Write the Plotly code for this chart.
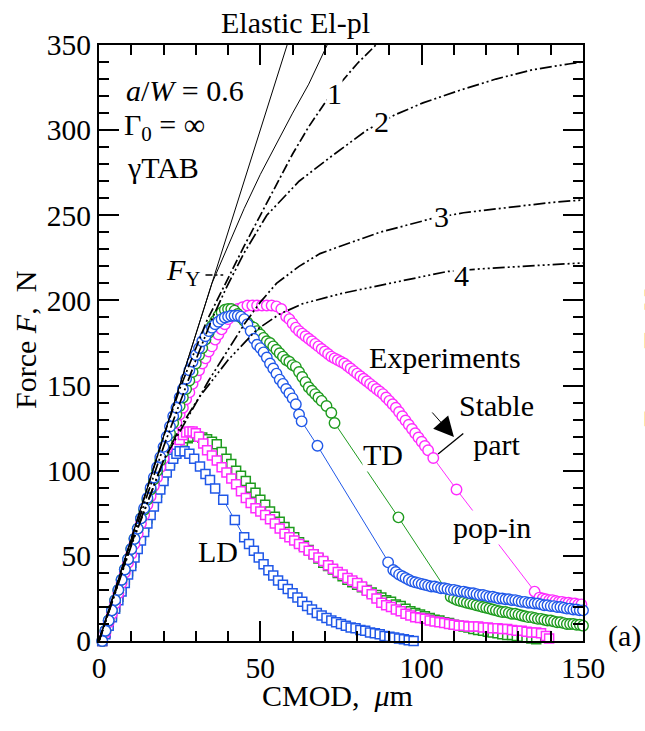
import plotly.graph_objects as go

# ---------------- data ----------------
# Model curves
elastic_cm = [0, 58.3]
elastic_F = [0, 350]
elpl_cm = [0, 30, 35, 40, 45, 50, 55, 60, 65, 70.7]
elpl_F = [0, 181, 210, 232, 254, 274, 292, 310, 327, 350]
c1_cm = [0, 10, 20, 25, 30, 33.4, 40, 45, 50, 55, 60, 65, 70, 75, 80, 85.8]
c1_F = [0, 60, 120, 148, 172, 188, 213, 232, 250, 268, 286, 302, 316, 328, 339, 350]
c2_cm = [0, 10, 20, 25, 30, 35, 39.6, 45, 52, 62, 71.6, 83, 91.7, 100.4, 112, 123, 134.5, 146, 150]
c2_F = [0, 58, 114, 140, 165, 189, 208, 228, 250, 270, 284, 300, 309, 316, 323.5, 330, 335.5, 339, 340]
c3_cm = [0, 10, 20, 24.8, 30, 34, 40, 45, 50, 55, 62, 68.5, 75, 81, 87, 93, 103, 113, 128, 140, 150]
c3_F = [0, 57, 106, 122, 139, 153, 171, 186, 199, 210, 220, 227.5, 232, 236, 240, 243, 248, 251.5, 255, 257.5, 259]
c4_cm = [0, 10, 20, 25, 31, 40, 49, 56, 63, 75, 90, 100, 108, 118, 130, 140, 150]
c4_F = [0, 56, 106, 125, 143, 165, 183, 192, 198, 204, 210, 214, 217, 218.5, 220, 221, 222]

# TD experiments (circles)
td_pink_cm = [1, 2, 3, 4, 5, 6, 7, 8, 9, 10, 11, 12, 13, 14, 15, 16, 17, 18, 19, 20, 21, 22, 23, 24, 25,
              26, 27, 28, 29, 30, 31, 32, 33, 34, 35, 36, 37, 38, 39, 40, 41, 42, 43,
              44.5, 46, 47.5, 49, 50.5, 52, 53.5, 55, 56.5,
              58, 59, 60, 61, 62, 63, 64, 65, 66, 67, 68, 69, 70, 71, 72, 73, 74, 75, 76, 77, 78, 79, 80,
              81, 82, 83, 84, 85, 86, 87, 88, 89, 90, 91, 92, 93, 94, 95, 96, 97, 98, 99, 100, 101, 102, 103.6,
              110.8, 135,
              136.5, 137.5, 138.5, 139.5, 140.5, 141.5, 142.5, 143.5, 144.5, 145.5, 146.5, 147.5, 148.5, 149.5]
td_pink_F = [0, 5, 11, 16, 22, 28, 34, 40, 46, 51, 57, 63, 69, 74, 80, 85, 91, 96, 102, 107, 113, 118, 123, 128, 133,
             137, 142, 146, 151, 155, 159, 163, 166, 170, 173, 177, 180, 183, 186, 189, 191, 193, 195,
             196, 197, 197, 197, 197, 197, 197, 196.5, 195,
             190.5, 189, 186.5, 184, 182, 180.5, 179, 177.5, 176, 174.5, 173, 171.5, 170, 168.5, 167, 166, 165, 164, 163, 161.5, 160, 158.5, 157,
             155.5, 154, 152.5, 151, 149.5, 148, 146.5, 145, 143, 141, 139, 137, 134.5, 132, 129.5, 127, 124.5, 122, 119.5, 117, 114.5, 112, 107.5,
             89, 29,
             25.5, 25, 24.5, 24, 24, 23.5, 23, 23, 22.5, 22.5, 22, 22, 21.5, 21.5]

td_green_cm = [1, 2, 3, 4, 5, 6, 7, 8, 9, 10, 11, 12, 13, 14, 15, 16, 17, 18, 19, 20, 21, 22, 23, 24, 25,
               26, 27, 28, 29, 30, 31, 32, 33, 34, 35, 36, 37, 38, 39, 40, 41,
               42, 43, 44, 45, 46, 47, 48, 49, 50, 51, 52, 53, 54, 55, 56, 57, 58, 59, 60, 61, 62, 63, 64, 65,
               66, 67, 68, 69, 70.5, 72, 73, 92.8,
               109, 110, 111, 112, 113, 114, 115, 116, 117, 118, 119, 120, 121, 122, 123, 124, 125, 126, 127, 128,
               129, 130, 131, 132, 133, 134, 135, 136, 137, 138, 139, 140, 141, 142, 143, 144, 145, 146, 147, 148, 149, 150]
td_green_F = [0, 6, 12, 18, 24, 30, 36, 42, 48, 54, 60, 66, 72, 77, 83, 89, 95, 100, 106, 111, 117, 122, 128, 133, 138,
              143, 148, 153, 158, 163, 168, 172, 177, 181, 185, 188, 191, 193, 194.5, 195, 195,
              194, 192, 190, 188, 187, 185, 184, 182, 180, 178, 176, 175, 173, 171, 169, 167, 165, 164, 162, 161, 158, 155, 152, 149,
              147, 145, 143, 141, 138, 134, 128, 72.6,
              26, 25, 24, 23.5, 23, 22.5, 22, 21.5, 21, 20.5, 20, 19.5, 19, 18.5, 18, 17.5, 17, 17, 16.5, 16,
              16, 15.5, 15, 14.5, 14, 14, 13.5, 13, 13, 12.5, 12, 12, 11.5, 11, 11, 10.5, 10, 10, 10, 9.5, 9.5, 9]

td_blue_cm = [1, 2, 3, 4, 5, 6, 7, 8, 9, 10, 11, 12, 13, 14, 15, 16, 17, 18, 19, 20, 21, 22, 23, 24, 25,
              26, 27, 28, 29, 30, 31, 32, 33, 34, 35, 36, 37, 38, 39, 40, 41, 42, 43, 44,
              45, 46, 47, 48, 49, 50, 51, 52, 53, 54, 55, 56, 57, 58, 59, 60, 61, 62, 62.8, 67.7, 89.6,
              91.2, 92, 93, 94, 95, 96, 97, 98, 99, 100, 101, 102, 103, 104, 105, 106, 107, 108, 109, 110,
              111, 112, 113, 114, 115, 116, 117, 118, 119, 120, 121, 122, 123, 124, 125, 126, 127, 128, 129, 130,
              131, 132, 133, 134, 135, 136, 137, 138, 139, 140, 141, 142, 143, 144, 145, 146, 147, 148, 149, 150]
td_blue_F = [0, 6, 12, 18, 24, 30, 36, 42, 48, 54, 60, 66, 72, 78, 84, 90, 96, 102, 108, 114, 120, 126, 132, 137, 143,
             148, 154, 159, 164, 168, 172, 176, 179, 182, 184, 186, 187.5, 189, 190, 190.5, 191, 191, 191, 190.5,
             189, 186, 182, 177.5, 174, 172, 169.5, 166.5, 163, 160, 157, 153.5, 151, 148, 145.5, 142.5, 139, 133, 129, 114.7, 46.2,
             41.7, 40.5, 39, 38, 37, 36, 35, 34.5, 34, 33.5, 33, 32.5, 32, 32, 31.5, 31, 31, 30.5, 30, 30,
             29.5, 29, 29, 28.5, 28, 28, 27.5, 27, 27, 26.5, 26, 26, 25.5, 25, 25, 24.5, 24.5, 24, 24, 23.5,
             23, 23, 22.5, 22.5, 22, 22, 21.5, 21, 21, 20.5, 20.5, 20, 20, 19.5, 19, 19, 18.5, 18.5, 18, 18]

# LD experiments (squares)
ld_blue_cm = [1, 2, 3, 4, 5, 6, 7, 8, 9, 10, 11, 12, 13, 14, 15, 16, 17, 18, 19, 20, 21, 22, 23, 24, 25,
              26.5, 28, 29.5, 31.3, 33, 34.4, 36, 38.5, 42.1, 45, 46.5, 48, 49.5, 51, 52.5, 54, 55.5, 57, 58.5,
              60, 61.5, 63, 64.5, 66, 67.5, 69, 70.5, 72, 73.5, 75, 76.5, 78, 79.5, 81, 82.5, 84, 85.5, 87,
              88.5, 90, 91.5, 93, 94.5, 96, 97.5]
ld_blue_F = [0, 4, 9, 14, 19, 24, 29, 34, 39, 44, 49, 54, 59, 64, 69, 74, 79, 84, 89, 94, 99, 103, 107, 110, 111.5,
             111.5, 110, 107, 102.5, 98, 94.5, 89.5, 83, 71, 61, 57, 53, 49, 45, 41.5, 38.5, 35.5, 33, 30.5,
             28, 25.5, 23, 20.5, 18.5, 16.5, 15, 13.5, 12, 11, 10, 9, 8, 7.5, 6.5, 6, 5, 4.5, 4,
             3, 2.5, 2, 1.5, 1, 0.5, 0]

ld_green_cm = [1, 2, 3, 4, 5, 6, 7, 8, 9, 10, 11, 12, 13, 14, 15, 16, 17, 18, 19, 20, 21, 22, 23, 24, 25, 26,
               27.5, 29, 30.5, 32, 33.5, 35, 36.5, 38, 39.5, 41, 42.5, 44, 45.5, 47, 48.5, 50, 51.5, 53, 54.5,
               56, 57.5, 59, 60.5, 62, 63.5, 65, 66.5, 68, 69.5, 71, 72.5, 74, 75.5, 77, 78.5, 80, 81.5, 83,
               84.5, 86, 87.5, 89, 90.5, 92, 93.5, 95, 96.5, 98, 99.5, 101, 102.5, 104, 105.5, 107, 108.5, 110,
               111.5, 113, 114.5, 116, 117.5, 119, 120.5, 122, 123.5, 125, 126.5, 128, 129.5, 131, 132.5, 134, 135.5]
ld_green_F = [0, 5, 10, 15, 20, 26, 31, 36, 41, 46, 52, 57, 62, 67, 72, 77, 82, 87, 92, 97, 101, 105, 109, 112, 115, 117,
              119, 120, 120, 119.5, 118.5, 117, 115.5, 111, 107, 104, 100, 97, 94, 90, 87, 83, 80, 76, 73,
              70, 67, 64, 61, 58, 56, 53.5, 51, 48.5, 46, 44, 42, 40, 38, 36, 34.5, 33, 31.5, 30,
              28.5, 27, 25.5, 24, 23, 21.5, 20.5, 19, 17.5, 16.5, 15.5, 14.5, 13.5, 12.5, 12, 11, 10.5, 9.5,
              9, 8.5, 8, 7, 6.5, 6, 5.5, 5, 4.5, 4, 3.5, 3.5, 3, 2.5, 2, 1.5, 1]

ld_pink_cm = [1, 2, 3, 4, 5, 6, 7, 8, 9, 10, 11, 12, 13, 14, 15, 16, 17, 18, 19, 20, 21, 22, 23, 24, 25,
              26, 27, 28, 29, 30, 31, 32.3, 33.5, 35, 36.5, 38, 39.5, 41, 42.5, 44, 45.5, 47, 48.5, 50, 51.5,
              53, 54.5, 56, 57.5, 59, 60.5, 62, 63.5, 65, 66.5, 68, 69.5, 71, 72.5, 74, 75.5, 77, 78.5, 80,
              81.5, 83, 84.5, 86, 87.5, 89, 90.5, 92, 93.5, 95, 96.5, 98, 99.5, 101, 102.5, 104, 105.5, 107,
              108.5, 110, 111.5, 113, 114.5, 116, 117.5, 119, 120.5, 122, 123.5, 125, 126.5, 128, 129.5, 131,
              132.5, 134, 135.5, 137, 138.5, 139.5]
ld_pink_F = [0, 5, 10, 16, 21, 27, 32, 37, 43, 48, 53, 59, 64, 69, 74, 79, 84, 89, 94, 99, 104, 108, 112, 115, 118,
             121, 122.5, 123, 123, 122, 120, 116, 112, 109, 106, 102, 99, 95.5, 92, 88, 84, 81, 78, 76, 74,
             71.5, 69, 66, 63, 61, 59, 57, 55, 53, 51, 49, 47, 44.5, 42.5, 40.5, 39, 37, 35.5, 34,
             32, 29.5, 27.5, 25, 22.5, 21, 20, 18.5, 17.5, 16, 15, 14, 13.5, 13, 12, 11.5, 11, 10.5,
             10, 9.5, 9, 9, 8.5, 8.5, 8.5, 8, 8, 7.5, 7.5, 7, 7, 6.5, 6, 6,
             5.5, 5, 5, 4.5, 3, 1.5]

# F_Y leader and stable-part marker
fy_cm = [33, 38.5]
fy_F = [215, 215]
stable_cm = [105.1, 112.9]
stable_F = [109.8, 121.9]

# ---------------- colours / styles ----------------
PINK = "#ff2bff"
GREEN = "#1e9b1e"
BLUE = "#2058e8"
FONT = "Liberation Serif, Times New Roman, DejaVu Serif, serif"

fig = go.Figure()


def exp_trace(x, y, color, symbol, size, lw):
    fig.add_trace(go.Scatter(
        x=x, y=y, mode="lines+markers",
        line=dict(color=color, width=1),
        marker=dict(symbol=symbol, size=size, color="white",
                    line=dict(color=color, width=lw)),
        cliponaxis=False, showlegend=False, hoverinfo="skip"))


exp_trace(ld_green_cm, ld_green_F, GREEN, "square", 9, 1.5)
exp_trace(ld_pink_cm, ld_pink_F, PINK, "square", 9, 1.5)
exp_trace(ld_blue_cm, ld_blue_F, BLUE, "square", 9, 1.5)
exp_trace(td_pink_cm, td_pink_F, PINK, "circle", 10.5, 1.4)
exp_trace(td_green_cm, td_green_F, GREEN, "circle", 10.5, 1.4)
exp_trace(td_blue_cm, td_blue_F, BLUE, "circle", 10.5, 1.4)


def curve(x, y, dash, width):
    fig.add_trace(go.Scatter(
        x=x, y=y, mode="lines", line=dict(color="black", width=width, dash=dash),
        showlegend=False, hoverinfo="skip"))


curve(elastic_cm, elastic_F, "solid", 1)
curve(elpl_cm, elpl_F, "solid", 1)
curve(c1_cm, c1_F, "10px,3px,2px,3px", 1.7)
curve(c2_cm, c2_F, "12px,3px,2px,3px,2px,3px", 1.7)
curve(c3_cm, c3_F, "12px,3px,2px,3px,2px,3px", 1.7)
curve(c4_cm, c4_F, "12px,3px,2px,3px,2px,3px,2px,3px", 1.7)
curve(fy_cm, fy_F, "7px,3px,2px,3px", 1.5)
curve(stable_cm, stable_F, "solid", 1.3)

ann = []


def txt(x, y, s, xanchor="center", bg=None, ref="data", angle=0, size=30):
    d = dict(x=x, y=y, text=s, showarrow=False, xanchor=xanchor, yanchor="middle",
             font=dict(family=FONT, size=size, color="black"), textangle=angle)
    if ref == "paper":
        d.update(xref="paper", yref="paper")
    else:
        d.update(xref="x", yref="y")
    if bg:
        d.update(bgcolor=bg, borderpad=0)
    ann.append(d)


txt(0.337, 1.037, "Elastic", ref="paper")
txt(0.498, 1.037, "El-pl", ref="paper")
txt(7.6, 323.5, "<i>a</i>/<i>W</i> = 0.6", xanchor="left")
txt(7.0, 301.8, "Γ<sub>0</sub> = ∞", xanchor="left")
txt(8.0, 278.3, "γTAB", xanchor="left")
txt(20.0, 216.7, "<i>F</i><sub>Y</sub>", xanchor="left")
txt(73.1, 321.8, "1", bg="white")
txt(87.4, 305.3, "2", bg="white")
txt(106.2, 249.2, "3", bg="white")
txt(112.4, 214.9, "4", bg="white")
txt(107.2, 166.2, "Experiments")
txt(123.3, 126.8, "Stable<br>part")
txt(88, 109.8, "TD", bg="white")
txt(121.8, 66.4, "pop-in", bg="white")
txt(36.9, 52.8, "LD")
txt(1.085, 0.008, "(a)", ref="paper")
txt(-0.153, 0.505, "Force <i>F</i>,  N", ref="paper", angle=-90)
txt(0.492, -0.092, "CMOD,  <i>μ</i>m", ref="paper")
txt(1.147, 0.475, "Force <i>F</i>,  N", ref="paper", angle=-90)

# arrow pointing at the end of the stable part
ann.append(dict(x=110, y=119.8, xref="x", yref="y", ax=-23, ay=-26, text="",
                showarrow=True, arrowhead=2, arrowsize=4, arrowwidth=1, arrowcolor="black"))

axis_common = dict(
    showline=True, linecolor="black", linewidth=2, mirror="allticks",
    ticks="inside", ticklen=20, tickwidth=2, tickcolor="black",
    showgrid=False, zeroline=False,
    tickfont=dict(family=FONT, size=29.5, color="black"),
)

fig.update_layout(
    width=645, height=731,
    margin=dict(l=99, r=62, t=45, b=90),
    paper_bgcolor="white", plot_bgcolor="white",
    font=dict(family=FONT, color="black"),
    xaxis=dict(range=[0, 150], dtick=50, tick0=0,
               minor=dict(ticks="inside", ticklen=10, tickwidth=2, tickcolor="black", dtick=10),
               **axis_common),
    yaxis=dict(range=[0, 350], dtick=50, tick0=0,
               minor=dict(ticks="inside", ticklen=10, tickwidth=2, tickcolor="black", dtick=10),
               **axis_common),
    annotations=ann,
    showlegend=False,
)

fig.write_html("out.html")
